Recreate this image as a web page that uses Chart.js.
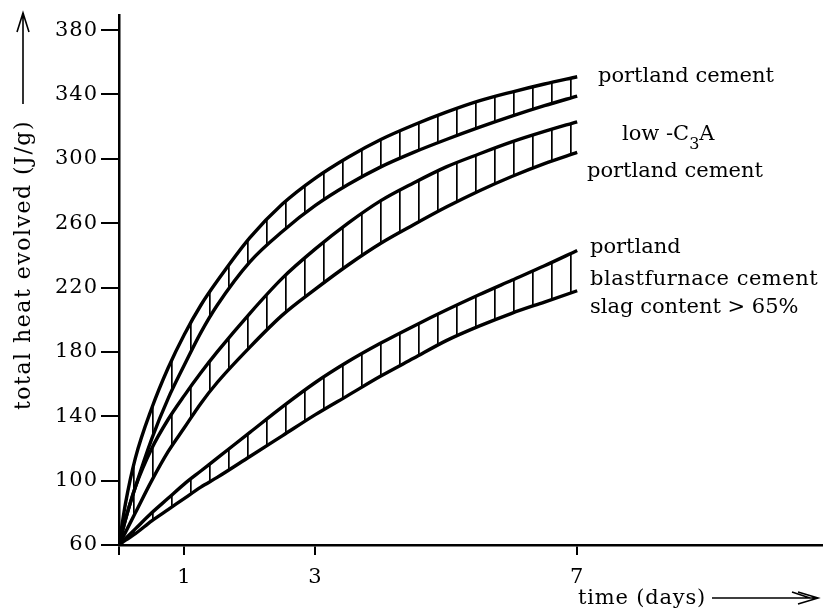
<!DOCTYPE html>
<html><head><meta charset="utf-8">
<script src="https://cdn.jsdelivr.net/npm/chart.js@4.4.1/dist/chart.umd.min.js"></script>
<style>html,body{margin:0;padding:0;background:#fff;}</style>
</head><body>
<canvas id="c" width="825" height="611"></canvas>
<script>
// ---- data ----
const days          = [0, 0.1, 0.25, 0.5, 0.75, 1, 1.25, 1.5, 2, 2.5, 3, 3.5, 4, 4.5, 5, 5.5, 6, 6.5, 7];
const portlandUpper = [60, 86, 114, 145, 170, 191, 209, 224, 251, 272, 288, 301, 312, 321, 329, 336, 341.5, 346.5, 351];
const portlandLower = [60, 76, 96, 126, 151, 172, 192, 209, 236, 255, 271, 284, 295, 304, 312, 319.5, 326.5, 333, 339];
const lowC3AUpper   = [60, 76, 96, 120, 138, 153, 167, 180, 204, 226, 244, 260, 274, 285, 295, 303, 310.5, 317, 323];
const lowC3ALower   = [60, 68, 80, 100, 118, 133, 148, 161, 183, 203, 219, 234, 247.5, 259, 270, 280, 289, 297, 304];
const slagUpper     = [60, 64, 70, 80, 89, 98, 106, 114, 130, 146, 161, 174, 185.5, 196, 206, 215.5, 224.5, 233.5, 243];
const slagLower     = [60, 63, 67, 75, 82, 89, 96, 102, 115, 128, 141, 153, 165, 176, 187, 196, 204, 211, 218];
const yTicks = [60, 100, 140, 180, 220, 260, 300, 340, 380];
const xTicks = [0, 1, 3, 7];
const xTickLabels = ['', '1', '3', '7'];
const yTitle = 'total heat evolved (J/g)';
const xTitle = 'time (days)';

const SERIF = '"DejaVu Serif", "Liberation Serif", serif';

// vertical hatch pattern for the bands
function hatch() {
  const c = document.createElement('canvas');
  c.width = 19; c.height = 8;
  const g = c.getContext('2d');
  g.fillStyle = '#000';
  g.fillRect(0, 0, 1.7, 8);
  return g.createPattern(c, 'repeat');
}
const pat = hatch();

function pts(arr) { return days.map((d, i) => ({x: d, y: arr[i]})); }
function curve(label, arr, fill) {
  return {
    label, data: pts(arr), borderColor: '#000', borderWidth: 3.4,
    pointRadius: 0, cubicInterpolationMode: 'monotone',
    fill: fill ? '+1' : false, backgroundColor: fill ? pat : 'transparent'
  };
}

const spacingPlugin = {
  id: 'spacing',
  beforeDraw(chart) { chart.ctx.letterSpacing = '1px'; },
  afterDatasetsDraw(chart) { chart.ctx.letterSpacing = '0px'; }
};

const labelsPlugin = {
  id: 'labels',
  afterDraw(chart) {
    const ctx = chart.ctx;
    ctx.save();
    ctx.fillStyle = '#000';
    ctx.strokeStyle = '#000';
    ctx.textBaseline = 'alphabetic';
    ctx.textAlign = 'left';
    ctx.letterSpacing = '0px';
    const F = '21px ' + SERIF;
    ctx.font = F;
    ctx.fillText('portland cement', 598, 82);
    // low -C3A with subscript
    let x = 622;
    ctx.fillText('low -C', x, 140);
    x += ctx.measureText('low -C').width;
    ctx.font = '16px ' + SERIF;
    ctx.fillText('3', x, 149);
    x += ctx.measureText('3').width;
    ctx.font = F;
    ctx.fillText('A', x, 140);
    ctx.fillText('portland cement', 587, 177);
    ctx.fillText('portland', 590, 253);
    ctx.letterSpacing = '0.5px';
    ctx.fillText('blastfurnace cement', 590, 285);
    ctx.letterSpacing = '0px';
    ctx.fillText('slag content > 65%', 590, 313);

    // y title + arrow
    ctx.save();
    ctx.translate(30, 265);
    ctx.rotate(-Math.PI / 2);
    ctx.textAlign = 'center';
    ctx.letterSpacing = '1.5px';
    ctx.font = '22px ' + SERIF;
    ctx.fillText(yTitle, 0, 0);
    ctx.restore();
    ctx.lineWidth = 1.6;
    ctx.beginPath();
    ctx.moveTo(23, 104); ctx.lineTo(23, 14);
    ctx.moveTo(17, 32); ctx.lineTo(23, 13); ctx.lineTo(29, 32);
    ctx.stroke();

    // x title + arrow
    ctx.font = '21px ' + SERIF;
    ctx.letterSpacing = '0.8px';
    ctx.textAlign = 'left';
    ctx.fillText(xTitle, 578, 604);
    ctx.beginPath();
    ctx.moveTo(712, 598); ctx.lineTo(816, 598);
    ctx.moveTo(798, 592); ctx.lineTo(818, 598); ctx.lineTo(798, 604);
    ctx.moveTo(792, 592); ctx.lineTo(810, 598);
    ctx.stroke();
    ctx.restore();
  }
};

new Chart(document.getElementById('c'), {
  type: 'line',
  data: {
    datasets: [
      curve('portland cement (upper)', portlandUpper, true),
      curve('portland cement (lower)', portlandLower, false),
      curve('low-C3A portland cement (upper)', lowC3AUpper, true),
      curve('low-C3A portland cement (lower)', lowC3ALower, false),
      curve('portland blastfurnace cement (upper)', slagUpper, true),
      curve('portland blastfurnace cement (lower)', slagLower, false)
    ]
  },
  options: {
    responsive: false, animation: false, devicePixelRatio: 1,
    layout: {padding: {left: 0, top: 10, right: 3, bottom: 0}},
    plugins: {legend: {display: false}, tooltip: {enabled: false}},
    scales: {
      x: {
        type: 'linear', min: 0, max: 10.74,
        afterFit(s) { s.height = 66; },
        afterBuildTicks(s) { s.ticks = xTicks.map(v => ({value: v})); },
        grid: {drawOnChartArea: false, drawTicks: true, tickLength: 10, color: '#000', lineWidth: 2},
        border: {display: true, color: '#000', width: 2.5},
        ticks: {
          color: '#000', font: {family: SERIF, size: 21}, padding: 10, maxRotation: 0, autoSkip: false,
          callback(v) { const i = xTicks.indexOf(v); return i >= 0 ? xTickLabels[i] : ''; }
        }
      },
      y: {
        type: 'linear', min: 60, max: 389,
        afterFit(s) { s.width = 119; },
        afterBuildTicks(s) { s.ticks = yTicks.map(v => ({value: v})); },
        grid: {drawOnChartArea: false, drawTicks: true, tickLength: 18, color: '#000', lineWidth: 2},
        border: {display: true, color: '#000', width: 2.5},
        ticks: {color: '#000', font: {family: SERIF, size: 21}, padding: 3, autoSkip: false}
      }
    }
  },
  plugins: [spacingPlugin, labelsPlugin]
});
</script>
</body></html>
